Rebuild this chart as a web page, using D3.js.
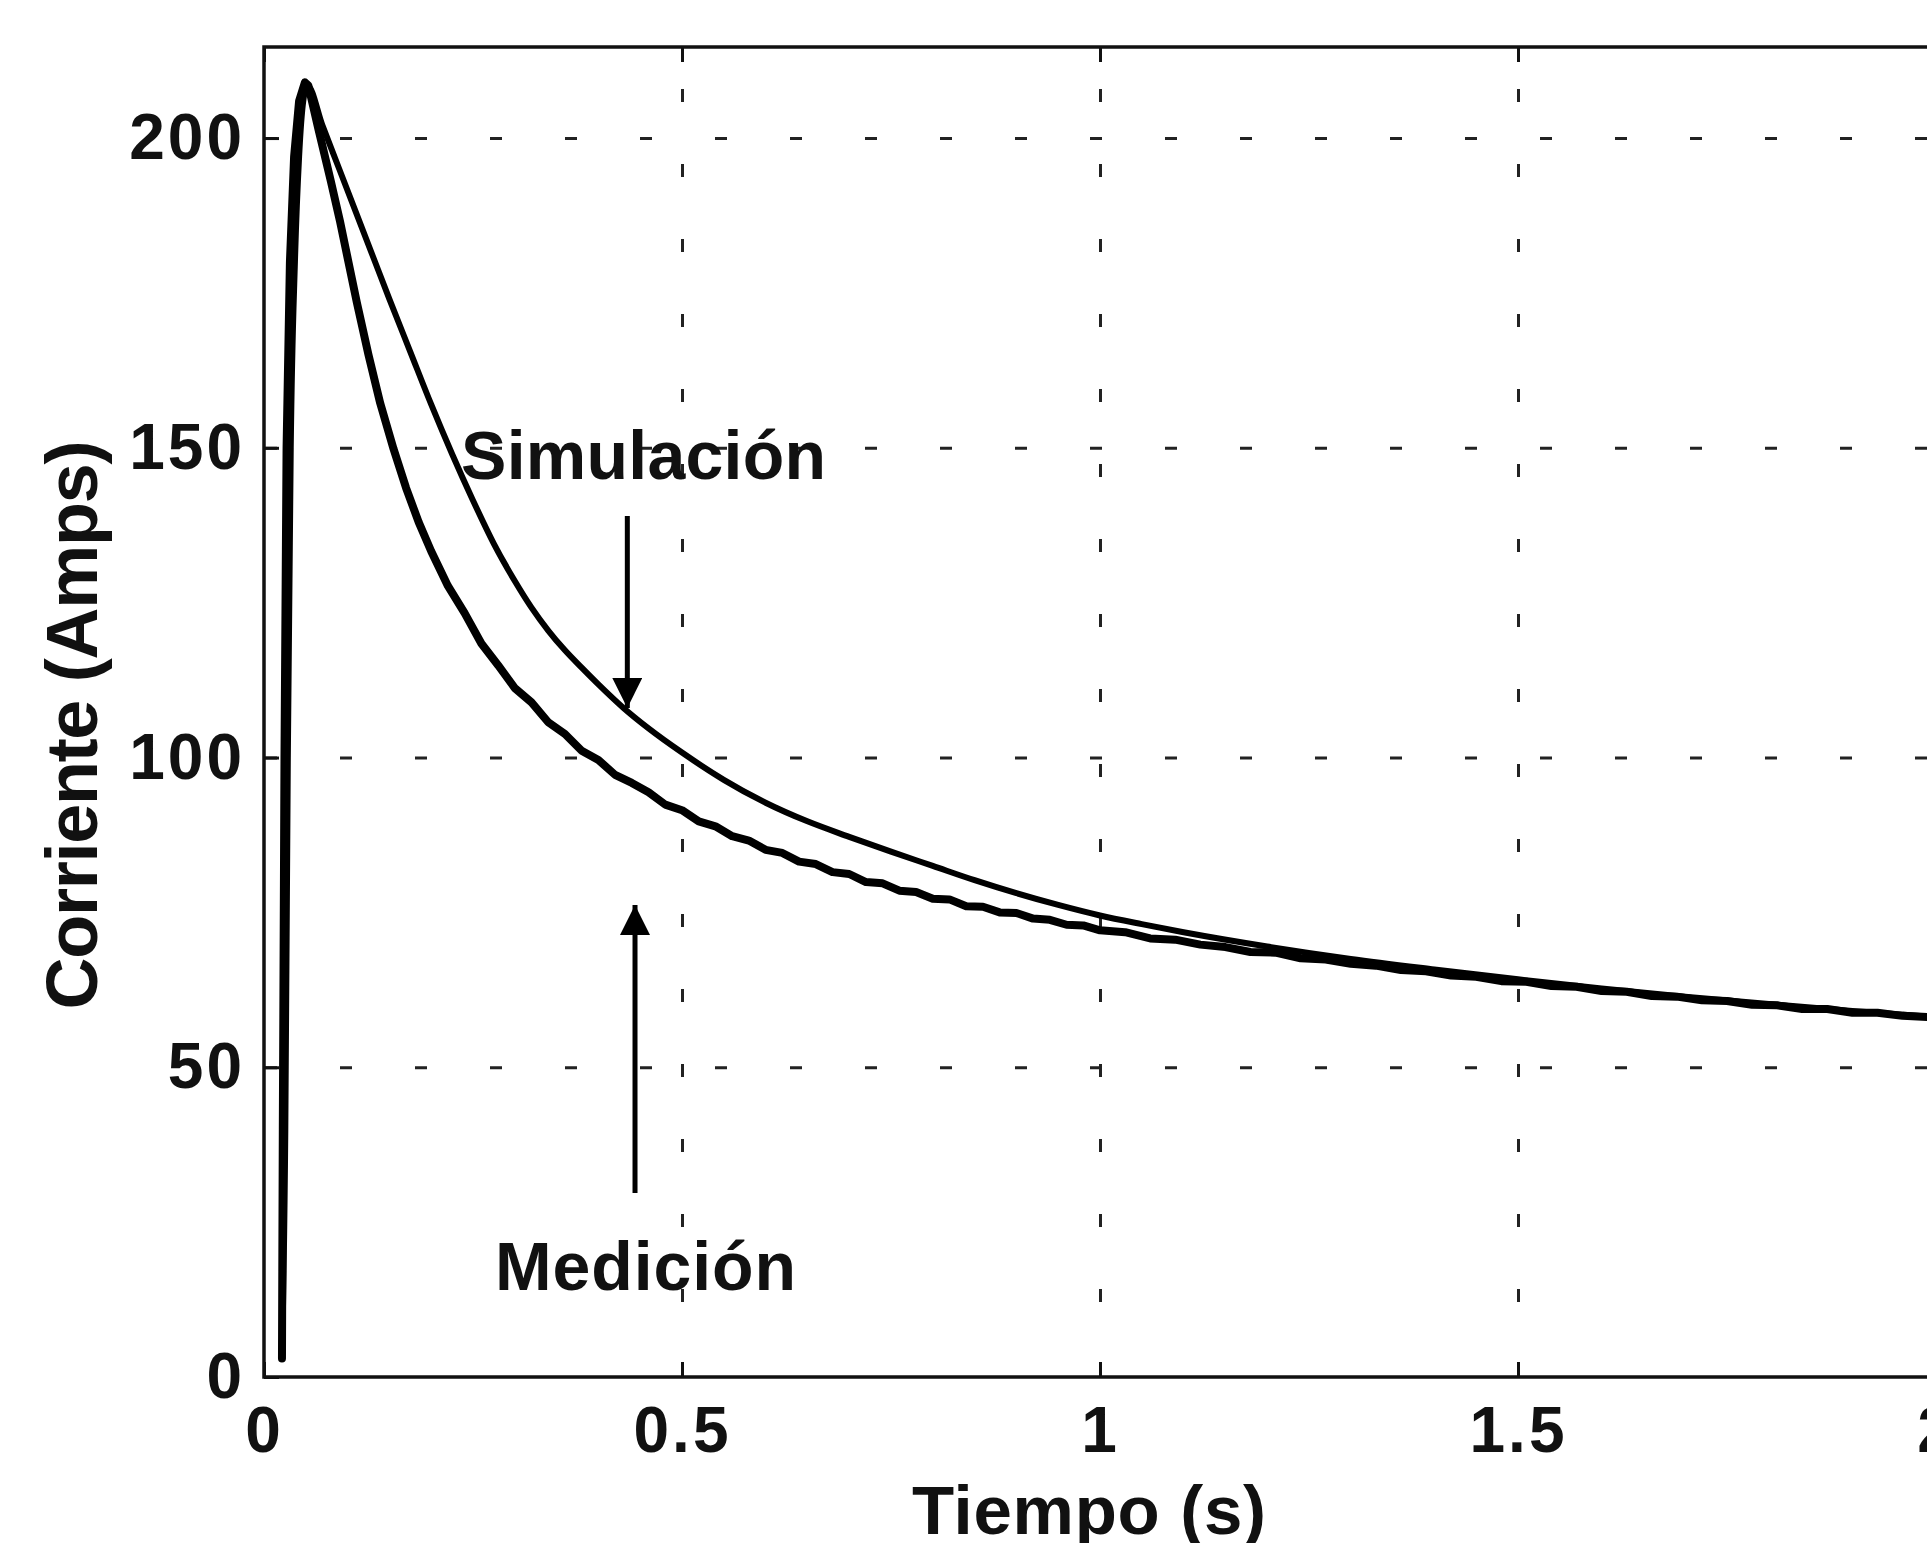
<!DOCTYPE html>
<html lang="es">
<head>
    <meta charset="UTF-8">
    <title>Corriente vs Tiempo</title>
    <style>
        body { margin: 0; background: #ffffff; }
        svg { display: block; background: #ffffff; }
        text { font-family: "Liberation Sans", Arial, Helvetica, sans-serif; font-weight: bold; fill: #111; }
    </style>
    <script src="https://d3js.org/d3.v7.min.js"></script>
</head>
<body>
    <svg width="1927" height="1543"></svg>
    <script>
        // measured current (noisy trace)
        const measT = [0.0215, 0.0225, 0.0245, 0.027, 0.031, 0.036, 0.042, 0.049, 0.053, 0.065, 0.08, 0.091, 0.101, 0.111, 0.125, 0.139,
            0.155, 0.17, 0.185, 0.2, 0.22, 0.24, 0.26, 0.28, 0.30, 0.32, 0.34, 0.36, 0.38, 0.40, 0.42, 0.44, 0.46, 0.48, 0.50,
            0.52, 0.54, 0.56, 0.58, 0.60, 0.62, 0.64, 0.66, 0.68, 0.70, 0.72, 0.74, 0.76, 0.78, 0.80, 0.82, 0.84, 0.86, 0.88,
            0.90, 0.92, 0.94, 0.96, 0.98, 1.00, 1.03, 1.06, 1.09, 1.12, 1.15, 1.18, 1.21, 1.24, 1.27, 1.30, 1.33, 1.36, 1.39,
            1.42, 1.45, 1.48, 1.51, 1.54, 1.57, 1.60, 1.63, 1.66, 1.69, 1.72, 1.75, 1.78, 1.81, 1.84, 1.87, 1.90, 1.93, 1.96,
            1.99, 2.02];
        const measI = [3, 40, 100, 150, 180, 197, 206, 209, 208.5, 201.5, 193, 186.5, 180, 173.5, 165, 157.2,
            149.8, 143.5, 138, 133.3, 127.7, 123.3, 118.4, 114.9, 111.2, 108.9, 105.7, 103.8, 101.1, 99.6, 97.2, 95.9, 94.4, 92.4, 91.5,
            89.7, 88.9, 87.3, 86.6, 85.1, 84.6, 83.2, 82.8, 81.5, 81.2, 79.9, 79.7, 78.5, 78.3, 77.2, 77.1, 76.0, 75.9, 75.0,
            74.9, 74.0, 73.8, 73.0, 72.9, 72.1, 71.8, 70.8, 70.6, 69.8, 69.4, 68.6, 68.5, 67.6, 67.4, 66.7, 66.4, 65.7, 65.5,
            64.8, 64.6, 63.9, 63.8, 63.1, 63.0, 62.3, 62.2, 61.5, 61.4, 60.8, 60.7, 60.1, 60.0, 59.4, 59.4, 58.8, 58.8, 58.3,
            58.1, 57.7];

        // simulated current (smooth)
        const simT = [0.0215, 0.0255, 0.0285, 0.032, 0.037, 0.042, 0.047, 0.052, 0.07, 0.09, 0.11, 0.13, 0.15, 0.175, 0.2,
            0.225, 0.25, 0.275, 0.3, 0.32, 0.34, 0.36, 0.38, 0.4, 0.43, 0.46, 0.5, 0.55, 0.6, 0.65, 0.7, 0.75, 0.8, 0.85, 0.9, 0.95,
            1.0, 1.05, 1.1, 1.2, 1.3, 1.4, 1.5, 1.6, 1.7, 1.8, 1.9, 2.0, 2.02];
        const simI = [3, 40, 100, 150, 180, 197, 206, 208.5, 202, 195, 188, 181, 174, 165.5, 157,
            149, 141.5, 134.5, 128.5, 124.2, 120.5, 117.3, 114.5, 111.8, 108, 104.7, 100.8, 96.4, 92.7, 89.7, 87.2, 84.8, 82.5, 80.2, 78.1, 76.2,
            74.5, 73.1, 71.8, 69.5, 67.5, 65.8, 64.2, 62.7, 61.4, 60.2, 59.1, 58.1, 57.9];

        const xTicks = [0, 0.5, 1, 1.5, 2];
        const xTickLabels = ["0", "0.5", "1", "1.5", "2"];
        const yTicks = [0, 50, 100, 150, 200];
        const yTickLabels = ["0", "50", "100", "150", "200"];

        // annotations: label, arrow x, arrow start, arrow tip, label anchor
        const annoLabels = ["Simulación", "Medición"];
        const annoArrowX = [0.4346, 0.4438];
        const annoArrowFrom = [139, 29.7];
        const annoArrowTo = [108, 76.2];
        const annoTextX = [0.454, 0.4563];
        const annoTextY = [145, 14];

        const svg = d3.select("svg");
        const plotLeft = 264, plotTop = 47, plotRight = 1936, plotBottom = 1377;

        const x = d3.scaleLinear().domain([0, 2]).range([plotLeft, plotRight]);
        const y = d3.scaleLinear().domain([0, 214.7]).range([plotBottom, plotTop]);

        // grid
        svg.append("g")
            .attr("transform", `translate(0,${plotBottom})`)
            .call(d3.axisBottom(x).tickValues(xTicks.slice(1, -1)).tickSize(-(plotBottom - plotTop)).tickFormat(""))
            .call(g => g.select(".domain").remove())
            .call(g => g.selectAll("line")
                .attr("stroke", "#222")
                .attr("stroke-width", 3)
                .attr("stroke-dasharray", "13,62"));

        svg.append("g")
            .attr("transform", `translate(${plotLeft},0)`)
            .call(d3.axisLeft(y).tickValues(yTicks.slice(1)).tickSize(-(plotRight - plotLeft)).tickFormat(""))
            .call(g => g.select(".domain").remove())
            .call(g => g.selectAll("line")
                .attr("stroke", "#222")
                .attr("stroke-width", 3)
                .attr("stroke-dasharray", "12,63")
                .attr("stroke-dashoffset", 74));

        // axes with inner ticks
        const xAxis = svg.append("g")
            .attr("transform", `translate(0,${plotBottom})`)
            .call(d3.axisBottom(x).tickValues(xTicks).tickFormat((d, i) => xTickLabels[i])
                .tickSizeInner(-15).tickSizeOuter(0).tickPadding(30));
        const yAxis = svg.append("g")
            .attr("transform", `translate(${plotLeft},0)`)
            .call(d3.axisLeft(y).tickValues(yTicks).tickFormat((d, i) => yTickLabels[i])
                .tickSizeInner(-15).tickSizeOuter(0).tickPadding(19));
        svg.append("g")
            .attr("transform", `translate(0,${plotTop})`)
            .call(d3.axisTop(x).tickValues(xTicks).tickFormat("").tickSizeInner(-15).tickSizeOuter(0))
            .call(g => g.select(".domain").remove())
            .call(g => g.selectAll("line").attr("stroke", "#111").attr("stroke-width", 3));

        [xAxis, yAxis].forEach(g => {
            g.select(".domain").remove();
            g.selectAll("line").attr("stroke", "#111").attr("stroke-width", 3);
            g.selectAll("text")
                .attr("fill", "#111")
                .style("font-size", "64px")
                .style("font-family", '"Liberation Sans", Arial, sans-serif')
                .style("font-weight", "bold")
                .style("letter-spacing", "3px");
        });

        // frame
        svg.append("rect")
            .attr("x", plotLeft).attr("y", plotTop)
            .attr("width", plotRight - plotLeft).attr("height", plotBottom - plotTop)
            .attr("fill", "none")
            .attr("stroke", "#111")
            .attr("stroke-width", 3.5);

        // curves
        const measData = measT.map((t, i) => [t, measI[i]]);
        const simData = simT.map((t, i) => [t, simI[i]]);

        const line = d3.line().x(d => x(d[0])).y(d => y(d[1]));

        svg.append("path")
            .datum(measData)
            .attr("d", line)
            .attr("fill", "none")
            .attr("stroke", "#000")
            .attr("stroke-width", 8)
            .attr("stroke-linejoin", "round")
            .attr("stroke-linecap", "round");

        svg.append("path")
            .datum(simData)
            .attr("d", line.curve(d3.curveMonotoneX))
            .attr("fill", "none")
            .attr("stroke", "#000")
            .attr("stroke-width", 6)
            .attr("stroke-linejoin", "round")
            .attr("stroke-linecap", "round");

        // arrows
        const defs = svg.append("defs");
        defs.append("marker")
            .attr("id", "head")
            .attr("viewBox", "0 0 10 10")
            .attr("refX", 10).attr("refY", 5)
            .attr("markerUnits", "userSpaceOnUse")
            .attr("markerWidth", 44).attr("markerHeight", 30)
            .attr("orient", "auto")
            .append("path")
            .attr("d", "M0,0 L10,5 L0,10 Z")
            .attr("fill", "#000");

        annoLabels.forEach((label, i) => {
            svg.append("line")
                .attr("x1", x(annoArrowX[i])).attr("y1", y(annoArrowFrom[i]))
                .attr("x2", x(annoArrowX[i])).attr("y2", y(annoArrowTo[i]))
                .attr("stroke", "#000")
                .attr("stroke-width", 5)
                .attr("marker-end", "url(#head)");
        });

        const textWidths = [365, 301];
        annoLabels.forEach((label, i) => {
            svg.append("text")
                .attr("x", x(annoTextX[i]))
                .attr("y", y(annoTextY[i]))
                .attr("text-anchor", "middle")
                .attr("textLength", textWidths[i])
                .attr("lengthAdjust", "spacing")
                .style("font-size", "68px")
                .text(label);
        });

        // axis titles
        svg.append("text")
            .attr("x", (plotLeft + plotRight) / 2 - 11)
            .attr("y", 1534)
            .attr("text-anchor", "middle")
            .attr("textLength", 354)
            .attr("lengthAdjust", "spacing")
            .style("font-size", "69px")
            .text("Tiempo (s)");

        svg.append("text")
            .attr("transform", `translate(97,725) rotate(-90)`)
            .attr("text-anchor", "middle")
            .attr("textLength", 569)
            .attr("lengthAdjust", "spacing")
            .style("font-size", "72px")
            .text("Corriente (Amps)");
    </script>
</body>
</html>
